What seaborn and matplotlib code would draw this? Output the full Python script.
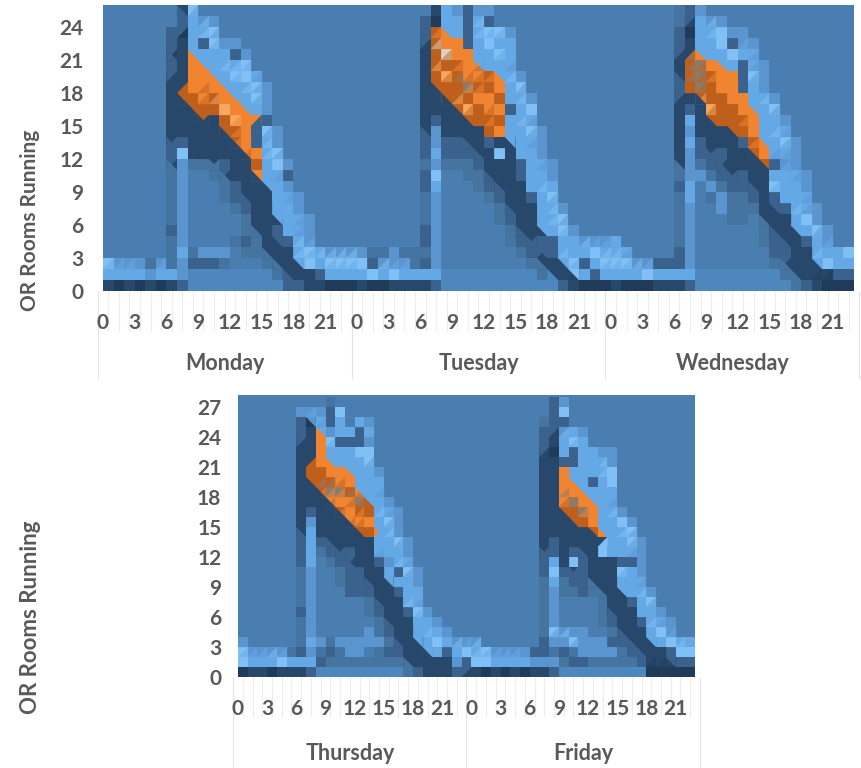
import numpy as np
import matplotlib
matplotlib.use("Agg")
import matplotlib.pyplot as plt
import seaborn as sns
from matplotlib.collections import PolyCollection
from matplotlib.colors import ListedColormap, to_rgb

# shade codes of the surface, rows go from the top room count down to 0
shades = {".": "#4a7eb1", "p": "#4e87bd", "m": "#44749f", "s": "#3a628c", "d": "#27486b",
          "k": "#1f3b59", "l": "#5a95cf", "b": "#65a8e6", "c": "#80c0f6",
          "o": "#f08431", "r": "#bf5f1c", "q": "#f5a860", "g": "#8f7a68", "w": "#d8d4cc"}
# bands: 0 base, 1 light, 2 dark, 3 orange
groups = {".": 0, "p": 0, "m": 0, "s": 0, "l": 1, "b": 1, "c": 1, "d": 2, "k": 2,
          "o": 3, "r": 3, "q": 3, "g": 3, "w": 3}

monday = [".......dc", ".......sbll", "......skbbc", "......sdbscll", "......kdobbbsl",
          "......sdoobbbc", "......ddooobccb", "......droooobbcl", "......drroroobcl",
          "......ddrrrqoobl", "......dddrdrqoos", "......dddddrroscl", "......dsddddrosbl",
          "......scdddddoobc", "......dlmmdsddrbcl", "......ml..mdddobbs", "......ml...msddobl",
          "......ml...msdddbbl", "......ml....msddbbl", "......ml.....mdddbbl",
          "......sl.....mddsbbl", "......ml....msmddsbl", "......mbmlll.mmdddbcblll",
          "clllmlmlsssm...mdddcbccc", "bbbblbblppppppppmdddsbbb", "dkdkdkdspppppppppssddkkk"]

tuesday = [".......dblsll", "......skbbsbs", "......srobsbccl", "......droosbcbb",
           "......drwoobbcb", "......drrroobbb", "......drqroorobl", "......drrrgrrobc",
           "......ddrrroorbbl", "......dddrqroosbc", "......dsddrrrrbbb", "......dlddddrobbcl",
           "......slssddsddbbl", "......sbsssddcdbbl", "......mlmmmsdddsbbl", "......sc..mmdddsbbl",
           "......sb...msdddbbb", "......ml....msddsbc", "......ml.....mdddbbl",
           "......ml.....msddbbc", "......sl......mdddbcl", "......sl......msdssbblll",
           "lmmlmmml.......msdsbbbcb", "cslllmsl........mdddcsbc", "bcbcbbbbpppppppppmdddbsb",
           "dkkddddspppppppppppsdkkk"]

wednesday = ["......msl", "......mdbll", "......skbbcll", "......sdbbcsll", "......drobbcbb",
             "......drgoobsbl", "......drgrooscl", "......srgroosbl", "......ddrrroobbl",
             "......dsdqrroobc", "......dbdrrrrobbl", "......dldddrrobbb", "......dbsdddsrobcl",
             "......dlsdsddrobbl", "......dlmsddddrsll", "......mllmsdsddbbbl",
             "......sb.lmssddcbbl", "......mb.mlmmsdsbbb", "......ml..lmmmddsbbl",
             "......ml...mm.dddbcl", "......ml......mdddbcl", "b.....ml......msddsbl",
             "bb....sl.......ssddbbbc", "ccllsssl.......mddddcbb", "bbbcbbbbppppppppmddddss",
             "dkkkdddspppppppppmsdkkk"]

thursday = [".........m", "......lllsc", "......skbsb.bl", "......sdolbbsb", "......ddocsssl",
            "......ddobbbcc", "......droobbbc", "......drrooobbl", "......drrroobbb",
            "......ddrggrobb", "......dddooogrbl", "......dsddrorrbbl", "......dldddooobcl",
            "......dbddddrrobl", "......sbsdddddbbcl", "......sbmsdsddbbbl", "......sb.msdddslbb",
            "......ml..mssddbscl", "......ml..mssdddbbl", "......ml...sssddsbb",
            "......ml.....mdddbb", "......sl.....msddscl", "......ml......mdddbbl",
            "......ml.....lmsddbbbl", "l.....mblmlllllmdddbcbll", "cllllmslmsmll.mssdddbsbc",
            "cbbbcbbbsmmmmmmmmdddddls", "kddkdddspppppppppmsdddsd"]

friday = ["........sl", "........sc", ".......mss", ".......sdlbl", ".......sdbcb",
          ".......dkbsbbll", ".......ddssbbbl", ".......ddobbbbc", ".......ddoobsbc",
          ".......ddooobbb", ".......ddogoobb", ".......ddrrgobbl", ".......dddrrobbcl",
          ".......dddddrobbc", ".......dsdddddbbcl", ".......dsdsddcbbbl", ".......sbdcsdddssl",
          ".......scsdsdddcbl", ".......mbmssdddbbb", ".......mlmmsmdddbbl", ".......ml....mddsbc",
          ".......ml....mdddbbl", ".......ml....msddsbbl", ".......mclll..mdddbcl",
          "l......sllclllssdddbcbb", "bcllllssmsmllllmsdddscc", "ccbbbblllmssmmmmmsdddss",
          "dkdkdkddspppppppppkkkkk"]

top_days = ["Monday", "Tuesday", "Wednesday"]
bottom_days = ["Thursday", "Friday"]
top_rooms = list(range(0, 25, 3))
bottom_rooms = list(range(0, 28, 3))
GREY = "#595959"

plt.rcParams["font.family"] = ["Lato", "DejaVu Sans"]
plt.rcParams["font.weight"] = "bold"

codes = list(shades)
cmap = ListedColormap([shades[c] for c in codes])
code_group = np.array([groups[c] for c in codes])
code_rgb = np.array([to_rgb(shades[c]) for c in codes])


def to_matrix(day, width):
    rows = [[codes.index(c) for c in r.ljust(width, ".")] for r in day]
    return np.array(rows)[::-1]


def add_triangles(ax, data):
    # the original surface is made of triangles: half of a cell leans to its neighbour
    # inside a band, and the stairs of the dark and orange bands are cut along the diagonal
    polys, cols = [], []
    nr, nc = data.shape
    for r in range(nr):
        for c in range(nc):
            v = data[r, c]
            gv = code_group[v]
            if r > 0 and c + 1 < nc:
                n = data[r - 1, c + 1]
                if gv == code_group[n] and gv > 0:
                    polys.append([(c, r), (c + 1, r), (c + 1, r + 1)])
                    cols.append((code_rgb[v] + code_rgb[n]) / 2)
            if gv < 2:
                continue
            for dr, dc in [(1, 1), (1, -1), (-1, 1), (-1, -1)]:
                if not (0 <= r + dr < nr and 0 <= c + dc < nc):
                    continue
                a, b = data[r + dr, c], data[r, c + dc]
                if code_group[a] == code_group[b] and code_group[a] < gv:
                    x0 = c + (dc > 0)
                    y0 = r + (dr > 0)
                    polys.append([(x0, y0), (x0 - dc, y0), (x0, y0 - dr)])
                    cols.append(code_rgb[a])
    ax.add_collection(PolyCollection(polys, facecolors=cols, edgecolors=cols, linewidths=0.2))


def draw_days(ax, days, widths, names, rooms, ymax, pad, name_y, line_y):
    data = np.hstack([to_matrix(d, w) for d, w in zip(days, widths)])
    sns.heatmap(data, ax=ax, cmap=cmap, vmin=-0.5, vmax=len(codes) - 0.5, cbar=False,
                xticklabels=False, yticklabels=False)
    add_triangles(ax, data)
    ax.set_facecolor(shades["."])
    ax.set_ylim(0, ymax)
    ax.set_xlim(0, data.shape[1])

    starts = np.cumsum([0] + [24] * (len(days) - 1))
    hour_pos = np.concatenate([s + np.arange(24) for s in starts])
    hour_pos = hour_pos[hour_pos < data.shape[1]]
    labels = [str(int(p % 24)) if p % 3 == 0 else "" for p in hour_pos]
    ax.set_xticks(hour_pos)
    ax.set_xticklabels(labels, rotation=0, fontsize=15, color=GREY)
    ax.tick_params(axis="x", length=0, pad=16)
    ax.set_yticks(rooms)
    ax.set_yticklabels(rooms, rotation=0, fontsize=15, color=GREY)
    ax.tick_params(axis="y", length=0, pad=pad)

    # faint lines of the two level category axis
    tr = ax.get_xaxis_transform()
    h = ax.get_window_extent().height
    ax.vlines(np.append(hour_pos, data.shape[1]) - 0.5, 0, -40 / h, transform=tr, clip_on=False,
              color="#ececec", lw=0.8, zorder=0)
    edges = np.append(starts, starts[-1] + 24) - 0.5
    ax.vlines(edges, 0, -line_y / h, transform=tr, clip_on=False, color="#e4e4e4", lw=0.8, zorder=0)
    for s, name in zip(starts, names):
        ax.text(s + 11.5, -name_y / h, name, transform=tr, ha="center", va="center",
                fontsize=15.5, color=GREY)


W, H = 862, 768
fig = plt.figure(figsize=(W / 100, H / 100), dpi=100)

ax1 = fig.add_axes([103 / W, 1 - 291 / H, 751 / W, 286 / H])
draw_days(ax1, [monday, tuesday, wednesday], [24, 24, 23], top_days, top_rooms, 26, 14, 72, 88)

ax2 = fig.add_axes([238 / W, 1 - 677 / H, 457 / W, 282 / H])
draw_days(ax2, [thursday, friday], [24, 23], bottom_days, bottom_rooms, 28.2, 12, 76, 91)

fig.text(30 / W, 1 - 220 / H, "OR Rooms Running", rotation=90, ha="center", va="center",
         fontsize=15, color=GREY)
fig.text(31 / W, 1 - 617 / H, "OR Rooms Running", rotation=90, ha="center", va="center",
         fontsize=16, color=GREY)

plt.savefig("out.png", dpi=100)
